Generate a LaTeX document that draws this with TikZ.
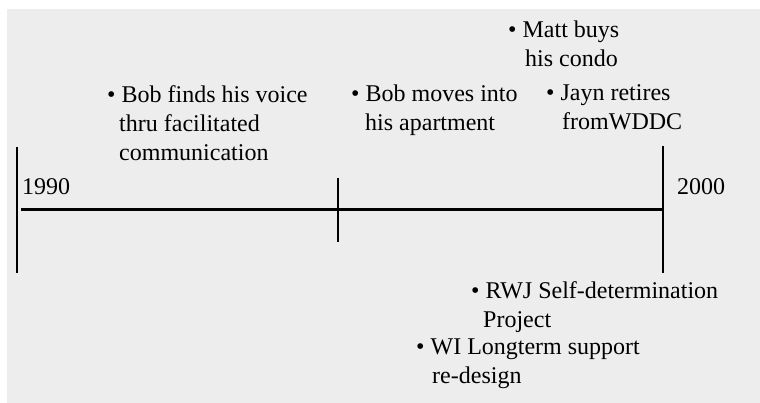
\documentclass[tikz,border=0pt]{standalone}
\usepackage{fontspec}
\setmainfont{Liberation Serif}
\begin{document}
\begin{tikzpicture}[x=1pt,y=-1pt,
  lbl/.style={anchor=base west,inner sep=0pt,align=left,font=\fontsize{24}{29}\selectfont},
  tick/.style={line width=1.5pt},
  axis/.style={line width=3pt}]
\useasboundingbox (0,0) rectangle (760,403);
\fill[fill={rgb,255:red,237;green,237;blue,237}] (7,9) rectangle (760,403);
% tick lines
\coordinate (l1) at (17,147);
\coordinate (l2) at (17,273);
\coordinate (m1) at (338,178);
\coordinate (m2) at (338,242);
\coordinate (r1) at (663,146);
\coordinate (r2) at (663,273);
\coordinate (a1) at (21,209.5);
\coordinate (a2) at (663,209.5);
\draw[tick] (l1) -- (l2);
\draw[tick] (m1) -- (m2);
\draw[tick] (r1) -- (r2);
\draw[axis] (a1) -- (a2);
% labels (anchored at the baseline of their last line)
\node[lbl] (y1990) at (22,195) {1990};
\node[lbl] (y2000) at (677,195) {2000};
\node[lbl] (bob1) at (107,161) {\textbullet\ Bob finds his voice\\\hspace{12pt}thru facilitated\\\hspace{12pt}communication};
\node[lbl] (bob2) at (351,131) {\textbullet\ Bob moves into\\\hspace{14pt}his apartment};
\node[lbl] (matt) at (508,67) {\textbullet\ Matt buys\\\hspace{17pt}his condo};
\node[lbl] (jayn) at (546,130) {\textbullet\ Jayn retires\\\hspace{16pt}fromWDDC};
\node[lbl] (rwj) at (471,327) {\textbullet\ RWJ Self-determination\\\hspace{12pt}Project};
\node[lbl] (wi) at (416,383) {\textbullet\ WI Longterm support\\\hspace{16pt}re-design};
\end{tikzpicture}
\end{document}
